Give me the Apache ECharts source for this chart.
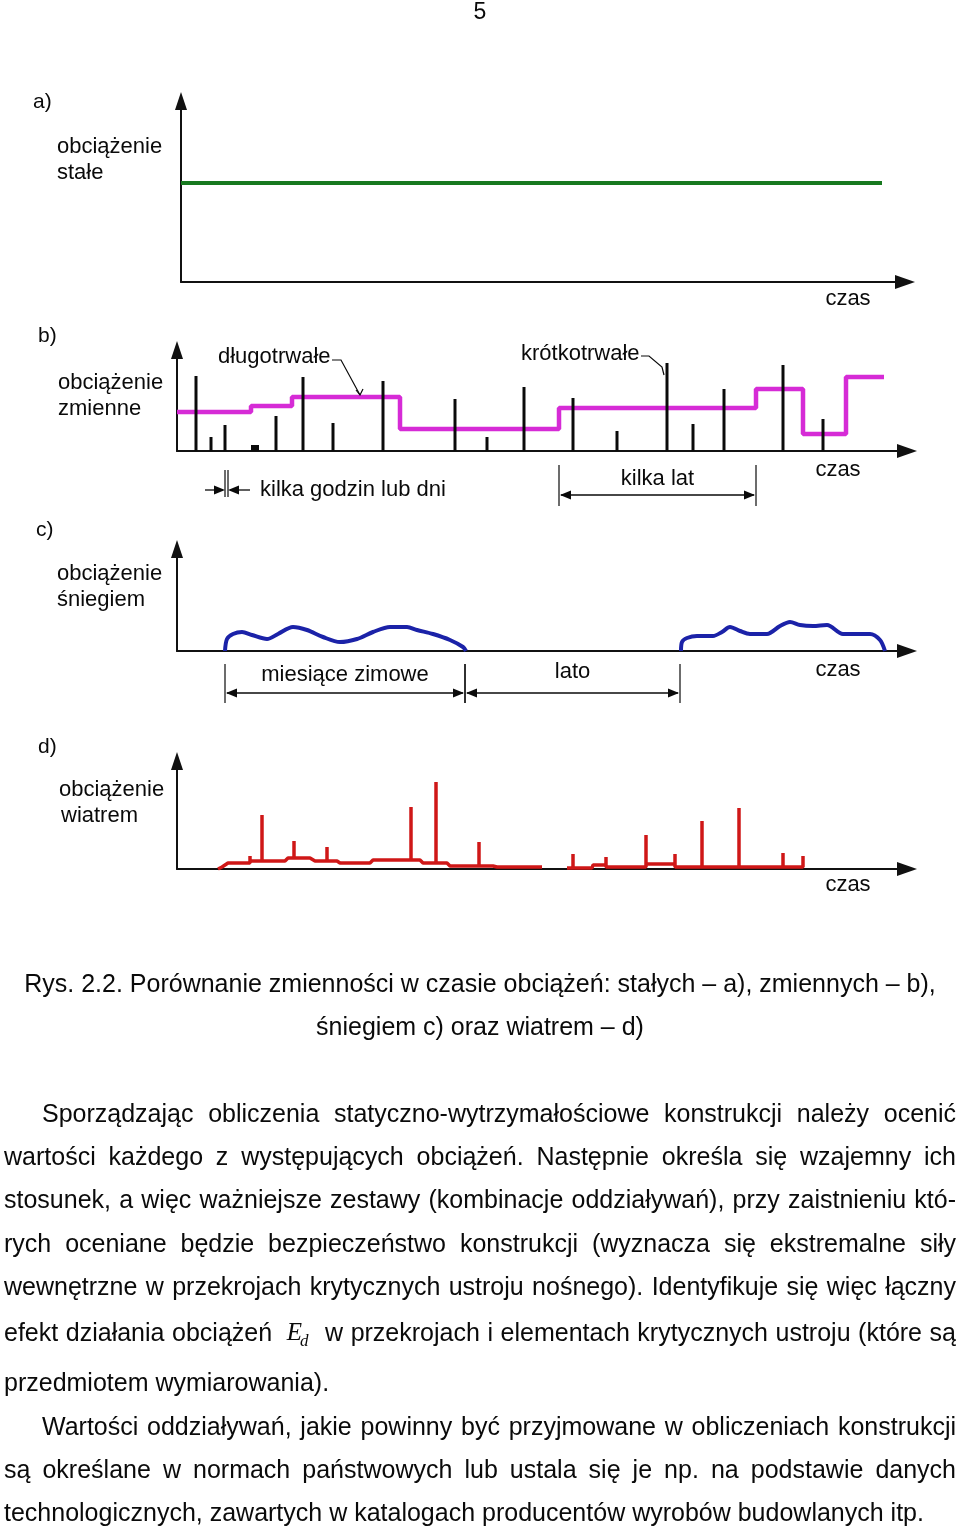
<!DOCTYPE html>
<html><head><meta charset="utf-8">
<script src="https://cdn.jsdelivr.net/npm/echarts@6/dist/echarts.min.js"></script>
<style>html,body{margin:0;padding:0;background:#fff}#c{width:960px;height:1529px}</style>
</head><body><div id="c"></div>
<script>
// ---- panel a: constant load ----
const constX = [0, 701];
const constY = [99, 99];
// ---- panel b: variable load ----
const longX = [0, 74, 115, 223, 382, 579, 626, 669, 707];
const longY = [39, 45, 54, 22, 43, 62, 17, 74, 74];
const shortX = [19, 34, 48, 99, 126, 156, 206, 278, 310, 347, 396, 440, 490, 516, 547, 606, 646];
const shortY = [75, 14, 26, 35, 74, 28, 70, 52, 14, 64, 53, 20, 88, 27, 62, 86, 32];
const blockX = [78];
const blockY = [6];
// ---- panel c: snow ----
const snow1X = [48, 50, 56, 65, 75, 90, 101, 116, 130, 146, 163, 180, 196, 213, 230, 240, 256, 273, 286, 289];
const snow1Y = [0, 12, 17, 19, 16, 12, 17, 24, 21, 14, 9, 12, 19, 24, 24, 21, 17, 11, 4, 0];
const snow2X = [504, 505, 510, 520, 536, 545, 553, 563, 573, 590, 603, 613, 623, 636, 650, 666, 683, 693, 703, 708];
const snow2Y = [0, 9, 13, 15, 15, 19, 24, 20, 17, 17, 25, 29, 26, 25, 26, 17, 17, 17, 11, 0];
// ---- panel d: wind ----
const wind1X = [41,45,51,73,73,73,85,85,85,108,111,117,117,117,133,138,150,150,150,160,163,193,196,234,234,234,243,246,259,259,259,270,273,302,302,302,316,320,365];
const wind1Y = [0,2,6,6,13,8,8,54,8,8,11,11,28,11,11,8,8,22,8,8,6,6,9,9,62,9,9,6,6,87,6,6,3,3,27,3,3,2,2];
const wind2X = [390,396,396,396,415,416,429,429,429,469,469,469,498,498,498,525,525,525,562,562,562,606,606,606,626,626];
const wind2Y = [1,1,15,1,1,4,4,12,2,2,34,5,5,15,2,2,48,2,2,61,2,2,16,2,2,13];
// dimension spans (time units)
const hoursSpan = [48, 51];
const yearsSpan = [382, 579];
const winterSpan = [48, 288];
const summerSpan = [288, 503];

// ---- texts ----
const pageNo = "5";
const panelTags = ["a)", "b)", "c)", "d)"];
const yLabels = [["obciążenie", "stałe"], ["obciążenie", "zmienne"], ["obciążenie", "śniegiem"], ["obciążenie", "wiatrem"]];
const xLabel = "czas";
const captionLines = ["Rys. 2.2. Porównanie zmienności w czasie obciążeń: stałych – a), zmiennych – b),", "śniegiem c) oraz wiatrem – d)"];
const bodyLines = [
  "Sporządzając obliczenia statyczno-wytrzymałościowe konstrukcji należy ocenić",
  "wartości każdego z występujących obciążeń. Następnie określa się wzajemny ich",
  "stosunek, a więc ważniejsze zestawy (kombinacje oddziaływań), przy zaistnieniu któ-",
  "rych oceniane będzie bezpieczeństwo konstrukcji (wyznacza się ekstremalne siły",
  "wewnętrzne w przekrojach krytycznych ustroju nośnego). Identyfikuje się więc łączny",
  "efekt działania obciążeń §Ed§ w przekrojach i elementach krytycznych ustroju (które są",
  "przedmiotem wymiarowania).",
  "Wartości oddziaływań, jakie powinny być przyjmowane w obliczeniach konstrukcji",
  "są określane w normach państwowych lub ustala się je np. na podstawie danych",
  "technologicznych, zawartych w katalogach producentów wyrobów budowlanych itp."
];
const bodyIndent = [true,false,false,false,false,false,false,true,false,false];
const bodyJustify = [true,true,true,true,true,true,false,true,true,false];

const zip = (a, b) => a.map((v, i) => [v, b[i]]);
const FONT = '"Liberation Sans", Arial, sans-serif';
const INK = '#0a0a0a';

const grids = [
  {left: 181, top: 101, width: 724, height: 181},
  {left: 177, top: 350, width: 730, height: 101},
  {left: 177, top: 549, width: 730, height: 102},
  {left: 177, top: 761, width: 730, height: 108}
];
const axisLine = (sz) => ({show: true, onZero: true, symbol: ['none', 'triangle'], symbolSize: sz,
  lineStyle: {color: '#111', width: 2}});
const xAxes = grids.map((g, i) => ({type: 'value', gridIndex: i, min: 0, max: g.width,
  axisLine: axisLine([14, 20]), axisTick: {show: false}, axisLabel: {show: false}, splitLine: {show: false}}));
const yAxes = grids.map((g, i) => ({type: 'value', gridIndex: i, min: 0, max: g.height,
  axisLine: axisLine([12, 18]), axisTick: {show: false}, axisLabel: {show: false}, splitLine: {show: false}}));

function spikeRender(w) {
  return function (params, api) {
    const x = api.value(0), h = api.value(1);
    const p0 = api.coord([x, 0]), p1 = api.coord([x, h]);
    return {type: 'rect', shape: {x: p0[0] - w / 2, y: p1[1], width: w, height: p0[1] - p1[1]}, style: {fill: INK}};
  };
}

const chart = echarts.init(document.getElementById('c'), null, {renderer: 'canvas'});
chart.setOption({
  animation: false,
  backgroundColor: '#fff',
  grid: grids.map(g => Object.assign({outerBoundsMode: 'none', containLabel: false}, g)),
  xAxis: xAxes,
  yAxis: yAxes,
  series: [
    {type: 'line', xAxisIndex: 0, yAxisIndex: 0, data: zip(constX, constY), symbol: 'none',
      lineStyle: {color: '#17791f', width: 4}},
    {type: 'line', xAxisIndex: 1, yAxisIndex: 1, data: zip(longX, longY), step: 'end', symbol: 'none',
      lineStyle: {color: '#d62bd6', width: 4.5}, z: 2},
    {type: 'custom', xAxisIndex: 1, yAxisIndex: 1, data: zip(shortX, shortY), renderItem: spikeRender(3), z: 3, clip: false},
    {type: 'custom', xAxisIndex: 1, yAxisIndex: 1, data: zip(blockX, blockY), renderItem: spikeRender(8), z: 3, clip: false},
    {type: 'line', xAxisIndex: 2, yAxisIndex: 2, data: zip(snow1X, snow1Y), smooth: 0.3, symbol: 'none',
      lineStyle: {color: '#1b22a8', width: 4}},
    {type: 'line', xAxisIndex: 2, yAxisIndex: 2, data: zip(snow2X, snow2Y), smooth: 0.3, symbol: 'none',
      lineStyle: {color: '#1b22a8', width: 4}},
    {type: 'line', xAxisIndex: 3, yAxisIndex: 3, data: zip(wind1X, wind1Y), symbol: 'none',
      lineStyle: {color: '#cf1717', width: 3.5}},
    {type: 'line', xAxisIndex: 3, yAxisIndex: 3, data: zip(wind2X, wind2Y), symbol: 'none',
      lineStyle: {color: '#cf1717', width: 3.5}}
  ]
});

// ---------- annotations ----------
const els = [];
function txt(text, x, y, size, align, extra) {
  els.push({type: 'text', x: x, y: y, z: 100, style: Object.assign({text: text, fontSize: size, fontFamily: FONT,
    fill: INK, textAlign: align || 'left', textVerticalAlign: 'middle'}, extra || {})});
}
function seg(x1, y1, x2, y2, w) {
  els.push({type: 'line', z: 100, shape: {x1, y1, x2, y2}, style: {stroke: INK, lineWidth: w || 1.3}});
}
function head(tx, ty, dir) { // dir 1: points right, -1: points left
  const L = 11, H = 4.5;
  els.push({type: 'polygon', z: 100, shape: {points: [[tx, ty], [tx - dir * L, ty - H], [tx - dir * L, ty + H]]}, style: {fill: INK}});
}
function px(gi, v) { return chart.convertToPixel({gridIndex: gi}, v); }

function dimension(gi, span, tickTop, tickBot, lineY, label, labelY) {
  const a = px(gi, [span[0], 0])[0], b = px(gi, [span[1], 0])[0];
  seg(a, tickTop, a, tickBot, 1.2); seg(b, tickTop, b, tickBot, 1.2);
  seg(a + 2, lineY, b - 2, lineY, 1.3);
  head(a + 1, lineY, -1); head(b - 1, lineY, 1);
  txt(label, (a + b) / 2, labelY, 22, 'center');
}

// page number
txt(pageNo, 480, 13, 23, 'center');

// panel tags & y labels
const tagPos = [[33, 102], [38, 336], [36, 530], [38, 747]];
const ylPos = [[57, 147], [58, 383], [57, 574], [59, 790]];
panelTags.forEach((t, i) => txt(t, tagPos[i][0], tagPos[i][1], 21, 'left'));
yLabels.forEach((l, i) => { txt(l[0], ylPos[i][0], ylPos[i][1], 22, 'left'); txt(l[1], ylPos[i][0] + (i === 3 ? 2 : 0), ylPos[i][1] + 26, 22, 'left'); });
const czasPos = [[848, 299], [838, 470], [838, 670], [848, 885]];
czasPos.forEach(p => txt(xLabel, p[0], p[1], 22, 'center'));

// panel b annotations
txt('długotrwałe', 218, 357, 22, 'left');
txt('krótkotrwałe', 521, 354, 22, 'left');
{
  const e = px(1, [183, 54]);
  els.push({type: 'polyline', z: 100, shape: {points: [[332, 360], [341, 360], [e[0], e[1] - 2]]}, style: {stroke: INK, lineWidth: 1.2, fill: null}});
  els.push({type: 'polyline', z: 100, shape: {points: [[e[0] - 4, e[1] - 7], [e[0], e[1] - 2], [e[0] + 3, e[1] - 8]]}, style: {stroke: INK, lineWidth: 1.2, fill: null}});
  const s = px(1, [490, 80]);
  els.push({type: 'polyline', z: 100, shape: {points: [[641, 356], [649, 356], [s[0] - 5, s[1] - 4], [s[0] - 3, s[1] + 4]]}, style: {stroke: INK, lineWidth: 1.2, fill: null}});
}
{
  const a = px(1, [hoursSpan[0], 0])[0], b = px(1, [hoursSpan[1], 0])[0];
  seg(a, 470, a, 497, 1.2); seg(b, 470, b, 497, 1.2);
  seg(205, 490, a - 2, 490, 1.3); head(a, 490, 1);
  seg(250, 490, b + 2, 490, 1.3); head(b, 490, -1);
  txt('kilka godzin lub dni', 260, 490, 22, 'left');
}
dimension(1, yearsSpan, 465, 506, 495, 'kilka lat', 479);
dimension(2, winterSpan, 664, 703, 693, 'miesiące zimowe', 675);
dimension(2, summerSpan, 664, 703, 693, 'lato', 672);

// caption
captionLines.forEach((l, i) => txt(l, 480, 985 + i * 43, 25, 'center'));

// body text, justified
const ctx = document.createElement('canvas').getContext('2d');
const BODY = 25;
function mw(s, font) { ctx.font = font; return ctx.measureText(s).width; }
const bodyFont = BODY + 'px "Liberation Sans"';
const eFont = 'italic 25px "Liberation Serif"';
const dFont = 'italic 17px "Liberation Serif"';
const lineYs = [1115, 1158, 1201, 1245, 1288, 1334, 1384, 1428, 1471, 1514];
bodyLines.forEach((line, li) => {
  const x0 = bodyIndent[li] ? 42 : 4, x1 = 956;
  const words = line.split(' ');
  const widths = words.map(w => w === '§Ed§' ? (mw('E', eFont) + mw('d', dFont) + 14) : mw(w, bodyFont));
  const total = widths.reduce((a, b) => a + b, 0);
  const gap = bodyJustify[li] && words.length > 1 ? (x1 - x0 - total) / (words.length - 1) : mw(' ', bodyFont);
  let x = x0;
  const y = lineYs[li];
  words.forEach((w, wi) => {
    if (w === '§Ed§') {
      const ex = x + 7;
      txt('E', ex, y - 1, 25, 'left', {fontFamily: '"Liberation Serif", serif', fontStyle: 'italic'});
      txt('d', ex + mw('E', eFont) - 2, y + 8, 17, 'left', {fontFamily: '"Liberation Serif", serif', fontStyle: 'italic'});
    } else {
      txt(w, x, y, BODY, 'left');
    }
    x += widths[wi] + gap;
  });
});

chart.setOption({graphic: {elements: els}});
</script>
</body></html>
